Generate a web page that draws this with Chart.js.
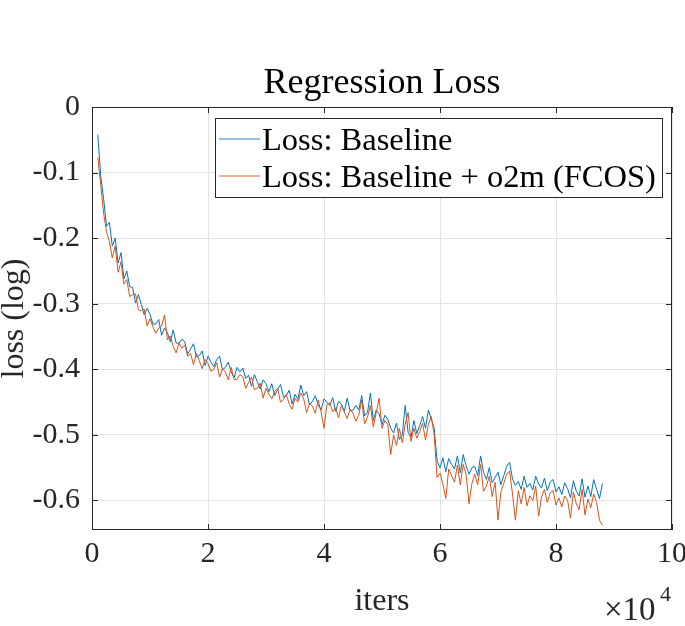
<!DOCTYPE html>
<html>
<head>
<meta charset="utf-8">
<title>Regression Loss</title>
<script src="https://cdn.jsdelivr.net/npm/chart.js"></script>
<style>
  html, body { margin: 0; padding: 0; background: #ffffff; }
  #chartCanvas { display: block; }
</style>
</head>
<body>
<canvas id="chartCanvas" width="685" height="626"></canvas>
<script>
// data (iterations, log loss)
const iters = [
  1000, 1500, 2000, 2500, 3000, 3500, 4000, 4500, 5000, 5500,
  6000, 6500, 7000, 7500, 8000, 8500, 9000, 9500, 10000, 10500,
  11000, 11500, 12000, 12500, 13000, 13500, 14000, 14500, 15000, 15500,
  16000, 16500, 17000, 17500, 18000, 18500, 19000, 19500, 20000, 20500,
  21000, 21500, 22000, 22500, 23000, 23500, 24000, 24500, 25000, 25500,
  26000, 26500, 27000, 27500, 28000, 28500, 29000, 29500, 30000, 30500,
  31000, 31500, 32000, 32500, 33000, 33500, 34000, 34500, 35000, 35500,
  36000, 36500, 37000, 37500, 38000, 38500, 39000, 39500, 40000, 40500,
  41000, 41500, 42000, 42500, 43000, 43500, 44000, 44500, 45000, 45500,
  46000, 46500, 47000, 47500, 48000, 48500, 49000, 49500, 50000, 50500,
  51000, 51500, 52000, 52500, 53000, 53500, 54000, 54500, 55000, 55500,
  56000, 56500, 57000, 57500, 58000, 58500, 59000, 59500, 60000, 60500,
  61000, 61500, 62000, 62500, 63000, 63500, 64000, 64500, 65000, 65500,
  66000, 66500, 67000, 67500, 68000, 68500, 69000, 69500, 70000, 70500,
  71000, 71500, 72000, 72500, 73000, 73500, 74000, 74500, 75000, 75500,
  76000, 76500, 77000, 77500, 78000, 78500, 79000, 79500, 80000, 80500,
  81000, 81500, 82000, 82500, 83000, 83500, 84000, 84500, 85000, 85500,
  86000, 86500, 87000, 87500, 88000
];

const lossBaseline = [
  -0.042, -0.105, -0.140, -0.182, -0.176, -0.212, -0.200, -0.238, -0.222, -0.262,
  -0.250, -0.274, -0.275, -0.299, -0.286, -0.301, -0.317, -0.307, -0.316, -0.331,
  -0.331, -0.324, -0.348, -0.337, -0.344, -0.358, -0.340, -0.360, -0.360, -0.354,
  -0.358, -0.377, -0.369, -0.361, -0.381, -0.379, -0.372, -0.394, -0.380, -0.389,
  -0.396, -0.385, -0.380, -0.401, -0.397, -0.389, -0.404, -0.413, -0.397, -0.404,
  -0.398, -0.414, -0.409, -0.426, -0.408, -0.419, -0.430, -0.416, -0.422, -0.434,
  -0.422, -0.440, -0.431, -0.423, -0.442, -0.440, -0.432, -0.453, -0.438, -0.446,
  -0.424, -0.440, -0.434, -0.454, -0.449, -0.440, -0.454, -0.462, -0.445, -0.450,
  -0.455, -0.443, -0.464, -0.449, -0.453, -0.464, -0.444, -0.463, -0.462, -0.455,
  -0.462, -0.440, -0.471, -0.466, -0.436, -0.478, -0.462, -0.468, -0.484, -0.470,
  -0.476, -0.490, -0.497, -0.482, -0.507, -0.500, -0.455, -0.496, -0.504, -0.478,
  -0.498, -0.486, -0.472, -0.490, -0.462, -0.476, -0.490, -0.540, -0.550, -0.535,
  -0.556, -0.536, -0.545, -0.552, -0.532, -0.558, -0.530, -0.547, -0.560, -0.550,
  -0.548, -0.562, -0.532, -0.557, -0.568, -0.550, -0.573, -0.565, -0.557, -0.576,
  -0.562, -0.548, -0.542, -0.567, -0.577, -0.571, -0.583, -0.563, -0.580, -0.574,
  -0.584, -0.563, -0.575, -0.581, -0.566, -0.585, -0.572, -0.568, -0.587, -0.579,
  -0.591, -0.573, -0.582, -0.596, -0.570, -0.586, -0.593, -0.567, -0.595, -0.578,
  -0.594, -0.568, -0.583, -0.597, -0.574
];

const lossO2m = [
  -0.077, -0.118, -0.162, -0.190, -0.205, -0.230, -0.212, -0.252, -0.236, -0.270,
  -0.263, -0.289, -0.286, -0.285, -0.309, -0.311, -0.308, -0.334, -0.323, -0.335,
  -0.345, -0.337, -0.334, -0.317, -0.355, -0.349, -0.365, -0.375, -0.360, -0.368,
  -0.363, -0.380, -0.376, -0.393, -0.376, -0.387, -0.399, -0.385, -0.391, -0.403,
  -0.400, -0.390, -0.412, -0.399, -0.404, -0.416, -0.397, -0.416, -0.415, -0.408,
  -0.411, -0.429, -0.420, -0.412, -0.431, -0.429, -0.421, -0.444, -0.429, -0.438,
  -0.445, -0.434, -0.429, -0.450, -0.446, -0.438, -0.453, -0.461, -0.444, -0.450,
  -0.436, -0.445, -0.466, -0.452, -0.456, -0.467, -0.447, -0.465, -0.490, -0.454,
  -0.451, -0.465, -0.459, -0.474, -0.455, -0.465, -0.475, -0.461, -0.467, -0.479,
  -0.470, -0.447, -0.483, -0.473, -0.455, -0.488, -0.466, -0.444, -0.490, -0.478,
  -0.484, -0.530, -0.500, -0.516, -0.490, -0.512, -0.484, -0.466, -0.510, -0.490,
  -0.505, -0.495, -0.482, -0.508, -0.484, -0.472, -0.500, -0.565, -0.558, -0.575,
  -0.597, -0.552, -0.562, -0.572, -0.546, -0.576, -0.545, -0.560, -0.605, -0.574,
  -0.560, -0.576, -0.545, -0.586, -0.578, -0.563, -0.594, -0.572, -0.630, -0.587,
  -0.574, -0.560, -0.555, -0.590, -0.630, -0.585, -0.605, -0.580, -0.608, -0.593,
  -0.600, -0.578, -0.624, -0.595, -0.583, -0.603, -0.588, -0.585, -0.607, -0.596,
  -0.610, -0.593, -0.600, -0.627, -0.587, -0.605, -0.614, -0.583, -0.622, -0.598,
  -0.611, -0.590, -0.603, -0.630, -0.638
];

const seriesNames = ['Loss: Baseline', 'Loss: Baseline + o2m (FCOS)'];
const seriesColors = ['#0072BD', '#D95319'];
const chartTitle = 'Regression Loss';

const xTicks = [0, 20000, 40000, 60000, 80000, 100000];
const xTickLabels = ['0', '2', '4', '6', '8', '10'];
const yTicks = [-0.6, -0.5, -0.4, -0.3, -0.2, -0.1, 0];
const yTickLabels = ['-0.6', '-0.5', '-0.4', '-0.3', '-0.2', '-0.1', '0'];

const serif = "'Liberation Serif', 'Times New Roman', serif";
const axisColor = '#262626';

function toPoints(ys) {
  return ys.map((y, i) => ({ x: iters[i], y: y }));
}

// title, box, inner tick marks, legend and the x10^4 exponent, drawn the matlab way
const matlabFrame = {
  id: 'matlabFrame',
  afterDatasetsDraw(chart) {
    const { ctx, chartArea: a, scales } = chart;
    ctx.save();

    // title centred over the axes
    ctx.fillStyle = '#000000';
    ctx.font = '36px ' + serif;
    ctx.textAlign = 'center';
    ctx.textBaseline = 'alphabetic';
    ctx.fillText(chartTitle, (a.left + a.right) / 2, 93);

    ctx.strokeStyle = axisColor;
    ctx.lineWidth = 1;
    ctx.strokeRect(a.left + 0.5, a.top + 0.5, a.right - a.left - 1, a.bottom - a.top - 1);

    ctx.beginPath();
    xTicks.forEach(v => {
      const px = Math.round(scales.x.getPixelForValue(v)) + 0.5;
      ctx.moveTo(px, a.bottom); ctx.lineTo(px, a.bottom - 6);
      ctx.moveTo(px, a.top); ctx.lineTo(px, a.top + 6);
    });
    yTicks.forEach(v => {
      const py = Math.round(scales.y.getPixelForValue(v)) + 0.5;
      ctx.moveTo(a.left, py); ctx.lineTo(a.left + 6, py);
      ctx.moveTo(a.right, py); ctx.lineTo(a.right - 6, py);
    });
    ctx.stroke();

    // legend
    const lx = 215, ly = 118, lw = 447, lh = 79;
    ctx.fillStyle = '#ffffff';
    ctx.fillRect(lx, ly, lw, lh);
    ctx.strokeStyle = axisColor;
    ctx.strokeRect(lx + 0.5, ly + 0.5, lw, lh);
    ctx.font = '32.5px ' + serif;
    ctx.textAlign = 'left';
    const rows = [150, 187];
    chart.data.datasets.forEach((ds, i) => {
      const ty = rows[i];
      ctx.strokeStyle = ds.borderColor;
      ctx.globalAlpha = 0.6;
      ctx.lineWidth = 1.5;
      ctx.beginPath();
      ctx.moveTo(219, ty - 11);
      ctx.lineTo(260, ty - 11);
      ctx.stroke();
      ctx.globalAlpha = 1;
      ctx.fillStyle = '#000000';
      ctx.fillText(ds.label, 262, ty);
    });

    // exponent under the x axis
    ctx.fillStyle = '#262626';
    ctx.font = '33px ' + serif;
    ctx.fillText('\u00d710', 604, 620);
    ctx.font = '22px ' + serif;
    ctx.fillText('4', 660, 601);
    ctx.restore();
  }
};

document.addEventListener('DOMContentLoaded', function () {
  const ctx = document.getElementById('chartCanvas').getContext('2d');
  new Chart(ctx, {
    type: 'line',
    data: {
      datasets: [
        {
          label: seriesNames[0],
          data: toPoints(lossBaseline),
          borderColor: seriesColors[0],
          borderWidth: 1,
          pointRadius: 0,
          tension: 0,
          order: 1
        },
        {
          label: seriesNames[1],
          data: toPoints(lossO2m),
          borderColor: seriesColors[1],
          borderWidth: 1,
          pointRadius: 0,
          tension: 0,
          order: 0
        }
      ]
    },
    options: {
      responsive: false,
      animation: false,
      layout: { padding: { left: 0, right: 13, top: 107, bottom: 0 } },
      plugins: {
        legend: { display: false },
        tooltip: { enabled: false },
        title: { display: false }
      },
      scales: {
        x: {
          type: 'linear',
          min: 0,
          max: 100000,
          afterBuildTicks: s => { s.ticks = xTicks.map(v => ({ value: v })); },
          afterFit: s => { s.height = 96; s.paddingLeft = 0; s.paddingRight = 0; },
          grid: { color: '#e3e3e3', drawTicks: false },
          border: { display: false },
          ticks: {
            color: '#262626',
            padding: 6,
            maxRotation: 0,
            autoSkip: false,
            font: { family: serif, size: 30 },
            callback: v => xTickLabels[xTicks.indexOf(v)]
          },
          title: {
            display: true,
            text: 'iters',
            color: '#262626',
            font: { family: serif, size: 32 },
            padding: { top: 0, bottom: 5 }
          }
        },
        y: {
          min: -0.645,
          max: 0,
          afterBuildTicks: s => { s.ticks = yTicks.map(v => ({ value: v })); },
          afterFit: s => { s.width = 92; s.paddingTop = 0; s.paddingBottom = 0; },
          grid: { color: '#e3e3e3', drawTicks: false },
          border: { display: false },
          ticks: {
            color: '#262626',
            padding: 12,
            autoSkip: false,
            font: { family: serif, size: 30 },
            callback: v => {
              const i = yTicks.findIndex(t => Math.abs(t - v) < 1e-9);
              return i >= 0 ? yTickLabels[i] : '';
            }
          },
          title: {
            display: true,
            text: 'loss (log)',
            color: '#262626',
            font: { family: serif, size: 32 },
            padding: { top: -5, bottom: 0 }
          }
        }
      }
    },
    plugins: [matlabFrame]
  });
});
</script>
</body>
</html>
